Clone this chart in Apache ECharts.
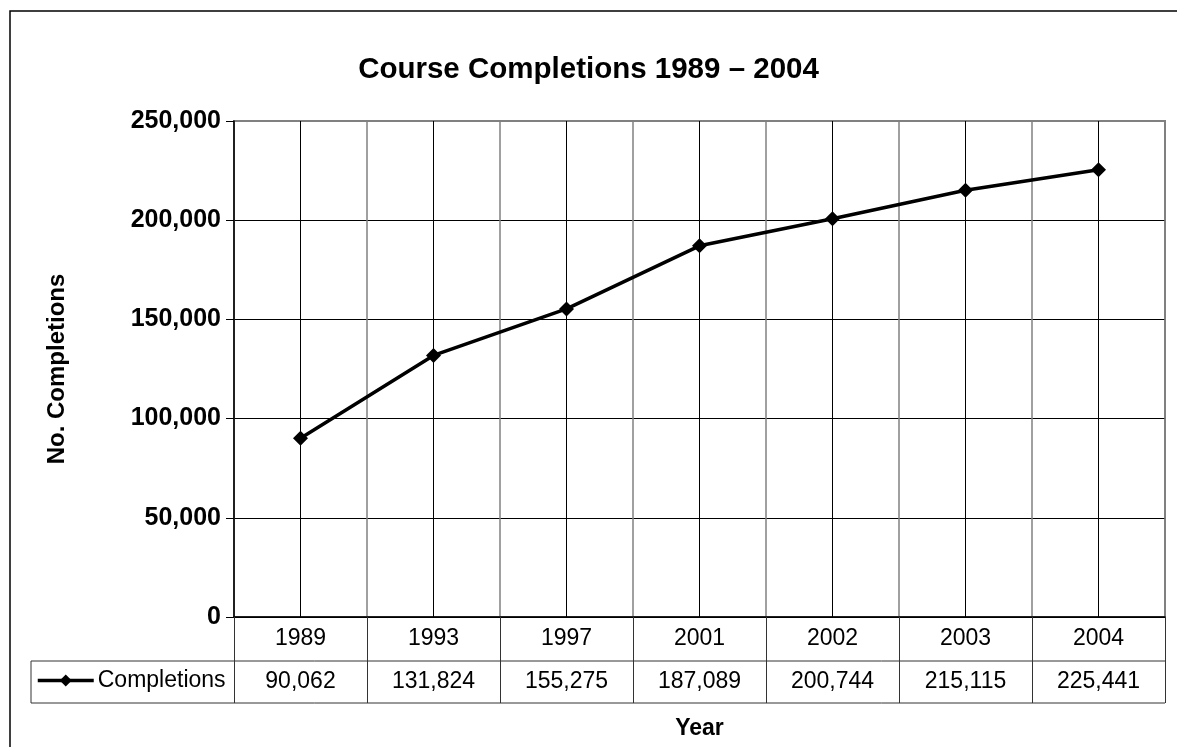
<!DOCTYPE html>
<html>
<head>
<meta charset="utf-8">
<script src="https://cdn.jsdelivr.net/npm/echarts@6/dist/echarts.min.js"></script>
<style>
  html, body { margin: 0; padding: 0; background: #fff; }
  #main { width: 1177px; height: 747px; }
</style>
</head>
<body>
<div id="main"></div>
<script>
// data
var years = ['1989', '1993', '1997', '2001', '2002', '2003', '2004'];
var completions = [90062, 131824, 155275, 187089, 200744, 215115, 225441];
var yTicks = [0, 50000, 100000, 150000, 200000, 250000];

var FONT = '"Liberation Sans", Arial, sans-serif';
function fmt(v) { return v.toLocaleString('en-US'); }

var chart = echarts.init(document.getElementById('main'));

var option = {
    animation: false,
    backgroundColor: '#fff',
    textStyle: { fontFamily: FONT, color: '#000' },
    title: {
        text: 'Course Completions 1989 \u2013 2004',
        left: 'center',
        top: 50,
        textStyle: { fontFamily: FONT, fontSize: 29.5, fontWeight: 'bold', color: '#000' }
    },
    legend: {
        left: 36,
        top: 669,
        padding: 0,
        itemWidth: 56,
        itemHeight: 15,
        itemGap: 0,
        lineStyle: { width: 3.5, color: '#000' },
        itemStyle: { color: '#000' },
        textStyle: { fontFamily: FONT, fontSize: 23, color: '#000', padding: [0, 0, 0, -1] },
        data: ['Completions']
    },
    grid: {
        left: 234,
        right: 12,
        top: 121,
        bottom: 130,
        show: true,
        borderColor: '#808080',
        borderWidth: 2
    },
    xAxis: {
        type: 'category',
        data: years,
        boundaryGap: true,
        name: 'Year',
        nameLocation: 'middle',
        nameGap: 100,
        nameTextStyle: { fontFamily: FONT, fontSize: 23, fontWeight: 'bold', color: '#000' },
        axisLine: { show: true, lineStyle: { color: '#000', width: 1.5 } },
        axisTick: { show: true, length: 86, lineStyle: { color: '#333', width: 1 } },
        axisLabel: {
            margin: 0,
            interval: 0,
            formatter: function (value, idx) {
                return '{y|' + value + '}\n{v|' + fmt(completions[idx]) + '}';
            },
            rich: {
                y: { fontFamily: FONT, fontSize: 23, lineHeight: 44, color: '#000' },
                v: { fontFamily: FONT, fontSize: 23, lineHeight: 42, color: '#000' }
            }
        },
        splitLine: { show: true, lineStyle: { color: '#808080', width: 1.5 } }
    },
    yAxis: {
        type: 'value',
        min: 0,
        max: yTicks[yTicks.length - 1],
        interval: yTicks[1] - yTicks[0],
        name: 'No. Completions',
        nameLocation: 'middle',
        nameRotate: 90,
        nameGap: 165,
        nameTextStyle: { fontFamily: FONT, fontSize: 24, fontWeight: 'bold', color: '#000' },
        axisLine: { show: true, lineStyle: { color: '#000', width: 1.5 } },
        axisTick: { show: true, length: 8, lineStyle: { color: '#000' } },
        axisLabel: {
            margin: 13,
            fontFamily: FONT, fontSize: 25, fontWeight: 'bold', color: '#000',
            formatter: function (v) { return fmt(v); }
        },
        splitLine: {
            show: true,
            lineStyle: { color: ['#000', '#000', '#000', '#000', '#000', '#808080'], width: 1 }
        }
    },
    series: [{
        name: 'Completions',
        type: 'line',
        data: completions,
        symbol: 'diamond',
        symbolSize: 15,
        lineStyle: { color: '#000', width: 3.5 },
        itemStyle: { color: '#000' },
        markLine: {
            silent: true,
            symbol: 'none',
            label: { show: false },
            lineStyle: { color: '#000', width: 1, type: 'solid' },
            data: years.map(function (y) { return { xAxis: y }; })
        },
        z: 5
    }],
    graphic: [
        { type: 'rect', shape: { x: 10, y: 11, width: 1200, height: 800 },
          style: { fill: null, stroke: '#000', lineWidth: 1.5 }, silent: true },
        { type: 'line', shape: { x1: 31, y1: 661, x2: 1165, y2: 661 },
          style: { stroke: '#333', lineWidth: 1 } },
        { type: 'line', shape: { x1: 31, y1: 703, x2: 1165, y2: 703 },
          style: { stroke: '#333', lineWidth: 1 } },
        { type: 'line', shape: { x1: 31, y1: 661, x2: 31, y2: 703 },
          style: { stroke: '#333', lineWidth: 1 } }
    ]
};

chart.setOption(option);
</script>
</body>
</html>
